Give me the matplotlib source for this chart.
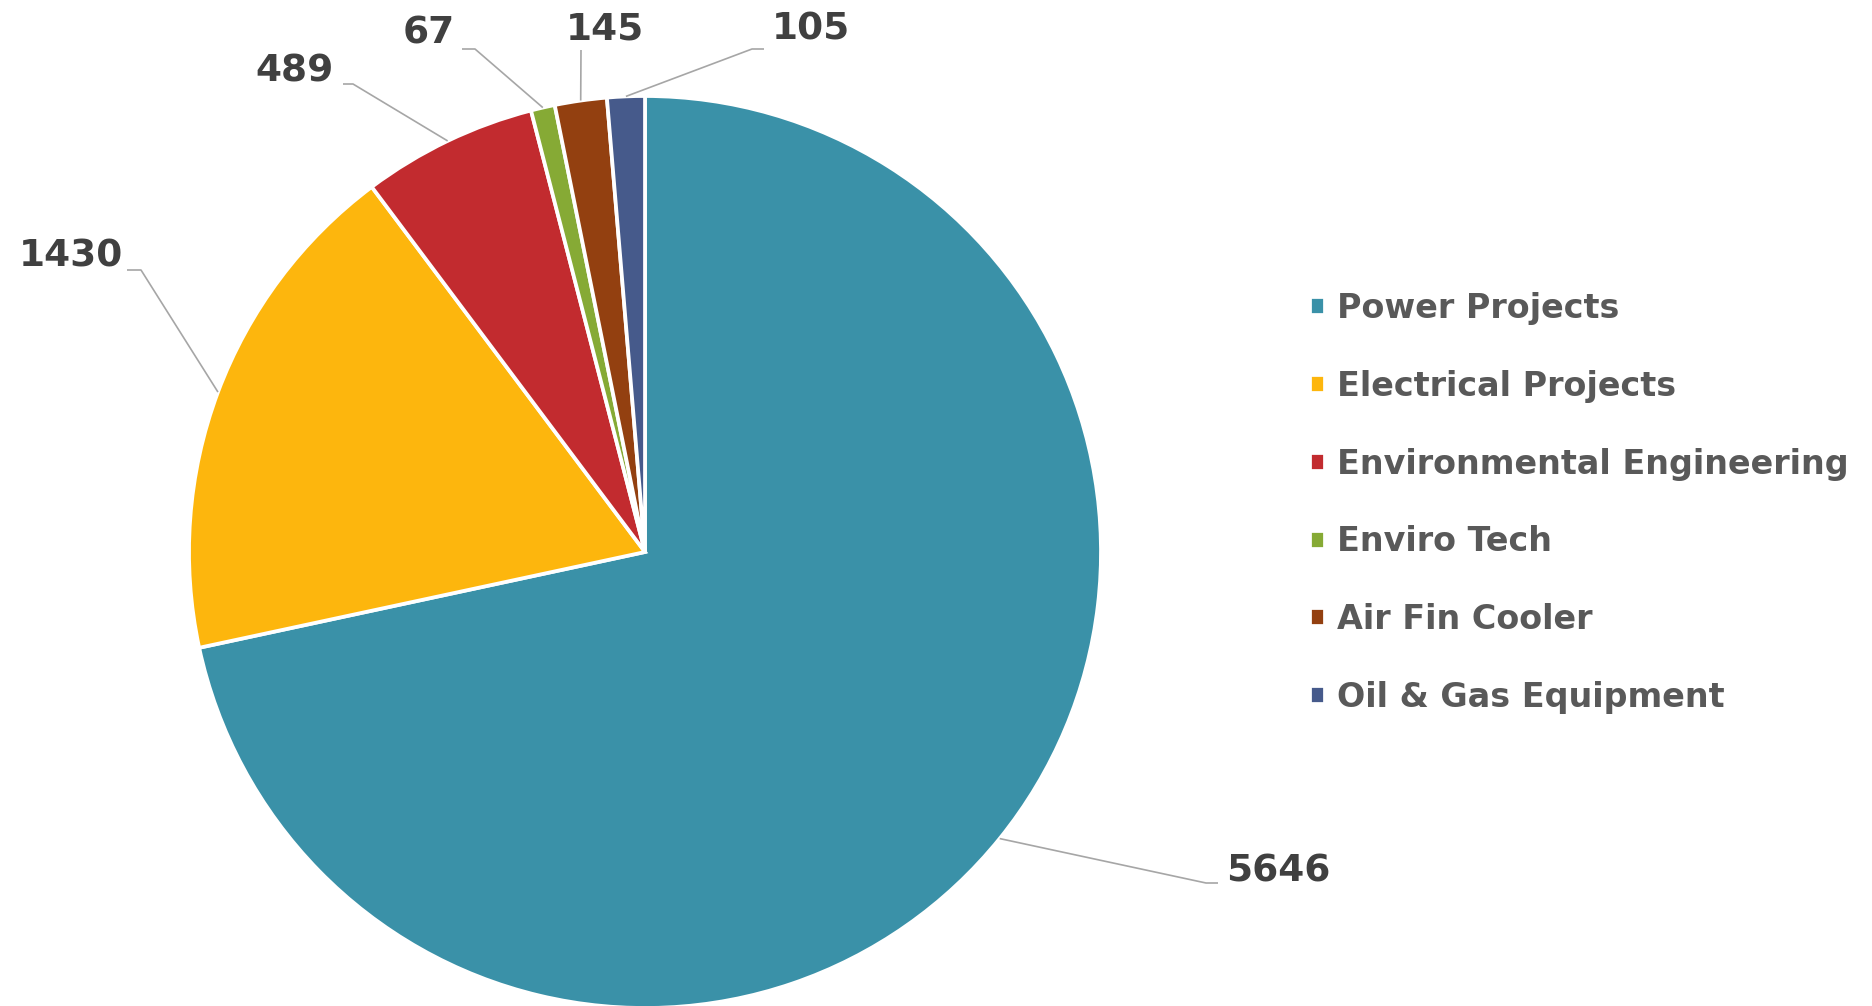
import numpy as np
import matplotlib
matplotlib.use("Agg")
import matplotlib.pyplot as plt

categories = ["Power Projects", "Electrical Projects", "Environmental Engineering",
              "Enviro Tech", "Air Fin Cooler", "Oil & Gas Equipment"]
values = [5646, 1430, 489, 67, 145, 105]
colors = ["#3A91A8", "#FDB60D", "#C22B2F", "#86AA35", "#934010", "#465A8B"]

W, H = 1872, 1006
fig = plt.figure(figsize=(W / 100, H / 100), dpi=100)
ax = fig.add_axes([0, 0, 1, 1])

cx, cy, R = 645, H - 552, 456
wedges, _ = ax.pie(values, colors=colors, startangle=90, counterclock=False,
                   center=(cx, cy), radius=R, frame=True,
                   wedgeprops=dict(edgecolor="white", linewidth=2.7))
ax.set_xlim(0, W)
ax.set_ylim(0, H)
ax.set_axis_off()

# label layout in pixel coordinates (x, y from top): elbow, line end, text anchor, ha
layout = [
    ((1206, 883), (1218, 883), (1226, 871), "left"),
    ((141, 270), (127, 270), (123, 256), "right"),
    ((353, 84), (343, 84), (334, 71), "right"),
    ((475, 49), (462, 49), (455, 33), "right"),
    ((581, 50), (581, 50), (605, 29), "center"),
    ((752, 49), (764, 49), (772, 29), "left"),
]

for w, v, (elb, end, txt, ha) in zip(wedges, values, layout):
    ang = np.deg2rad((w.theta1 + w.theta2) / 2)
    sx, sy = cx + R * np.cos(ang), cy + R * np.sin(ang)
    ax.plot([sx, elb[0], end[0]], [sy, H - elb[1], H - end[1]],
            color="#A6A6A6", lw=1.2, solid_capstyle="butt")
    ax.text(txt[0], H - txt[1], str(v), ha=ha, va="center", fontsize=27,
            fontweight="bold", color="#404040", family="DejaVu Sans")

leg = ax.legend(wedges, categories, loc="upper left",
                bbox_to_anchor=(1310 / W, 1 - 292 / H), frameon=False,
                fontsize=24, handlelength=0.45, handleheight=0.45,
                handletextpad=0.35, labelspacing=1.345, borderpad=0,
                borderaxespad=0)
for t in leg.get_texts():
    t.set_color("#595959")
    t.set_fontweight("bold")

fig.savefig("out.png", dpi=100)
